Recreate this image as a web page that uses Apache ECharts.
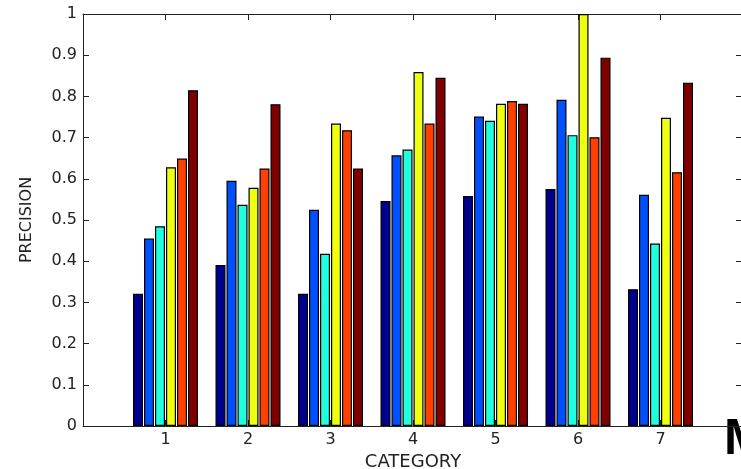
<!DOCTYPE html>
<html>
<head>
<meta charset="utf-8">
<script src="https://cdn.jsdelivr.net/npm/echarts@6/dist/echarts.min.js"></script>
<style>
html,body{margin:0;padding:0;background:#fff;}
#chart{width:741px;height:469px;}
</style>
</head>
<body>
<div id="chart"></div>
<script>
// ---- data ----
var categories = ['1', '2', '3', '4', '5', '6', '7'];
var yTickLabels = ['0', '0.1', '0.2', '0.3', '0.4', '0.5', '0.6', '0.7', '0.8', '0.9', '1'];
var s1 = [0.321, 0.391, 0.321, 0.546, 0.558, 0.575, 0.332];
var s2 = [0.455, 0.595, 0.525, 0.657, 0.751, 0.792, 0.561];
var s3 = [0.485, 0.537, 0.418, 0.671, 0.741, 0.706, 0.443];
var s4 = [0.628, 0.578, 0.734, 0.859, 0.782, 1.0, 0.748];
var s5 = [0.649, 0.625, 0.718, 0.734, 0.789, 0.701, 0.616];
var s6 = [0.815, 0.781, 0.625, 0.845, 0.782, 0.894, 0.833];
var seriesValues = [s1, s2, s3, s4, s5, s6];
var seriesColors = ['#00008f', '#0050ff', '#20ffdf', '#efff10', '#ff4000', '#800000'];
var xName = 'CATEGORY';
var yName = 'PRECISION';

var chart = echarts.init(document.getElementById('chart'), null, {renderer: 'canvas'});
var font = 'DejaVu Sans';
var axisCol = '#222';

var series = seriesValues.map(function (vals, si) {
  return {
    type: 'bar',
    xAxisIndex: 0,
    yAxisIndex: 0,
    barWidth: 10,
    barGap: '10%',
    itemStyle: {color: seriesColors[si], borderColor: '#000', borderWidth: 1.2},
    data: vals.map(function (v, i) { return [i + 1, v]; }),
    animation: false,
    silent: true
  };
});

chart.setOption({
  animation: false,
  grid: {left: 83, top: 14, width: 660, height: 412, containLabel: false, outerBoundsMode: 'none'},
  xAxis: [{
    type: 'value', min: 0, max: categories.length + 1, interval: 1,
    position: 'bottom',
    name: xName, nameLocation: 'middle', nameGap: 23,
    nameTextStyle: {fontFamily: font, fontSize: 18, color: axisCol},
    axisLine: {show: true, onZero: false, lineStyle: {color: axisCol, width: 1}},
    axisTick: {show: true, inside: true, length: 6, lineStyle: {color: axisCol}},
    axisLabel: {
      margin: 6, fontFamily: font, fontSize: 16, color: axisCol,
      formatter: function (v) { var i = Math.round(v) - 1; return (i >= 0 && i < categories.length) ? categories[i] : ''; }
    },
    splitLine: {show: false}
  }, {
    type: 'value', min: 0, max: categories.length + 1, interval: 1,
    position: 'top',
    axisLine: {show: true, onZero: false, lineStyle: {color: axisCol, width: 1}},
    axisTick: {show: true, inside: true, length: 6, lineStyle: {color: axisCol}},
    axisLabel: {show: false},
    splitLine: {show: false}
  }],
  yAxis: [{
    type: 'value', min: 0, max: 1, interval: 0.1,
    position: 'left',
    name: yName, nameLocation: 'middle', nameGap: 48,
    nameTextStyle: {fontFamily: font, fontSize: 16, color: axisCol},
    axisLine: {show: true, onZero: false, lineStyle: {color: axisCol, width: 1}},
    axisTick: {show: true, inside: true, length: 6, lineStyle: {color: axisCol}},
    axisLabel: {
      margin: 6, fontFamily: font, fontSize: 16, color: axisCol,
      formatter: function (v) { return yTickLabels[Math.round(v * 10)]; }
    },
    splitLine: {show: false}
  }, {
    type: 'value', min: 0, max: 1, interval: 0.1,
    position: 'right',
    axisLine: {show: true, onZero: false, lineStyle: {color: axisCol, width: 1}},
    axisTick: {show: true, inside: true, length: 7, lineStyle: {color: axisCol}},
    axisLabel: {show: false},
    splitLine: {show: false}
  }],
  graphic: [{
    type: 'text', left: 724, top: 415,
    style: {text: 'M', fontFamily: 'Liberation Sans', fontSize: 50, fontWeight: 'bold', fill: '#000'}
  }],
  series: series
});
</script>
</body>
</html>
